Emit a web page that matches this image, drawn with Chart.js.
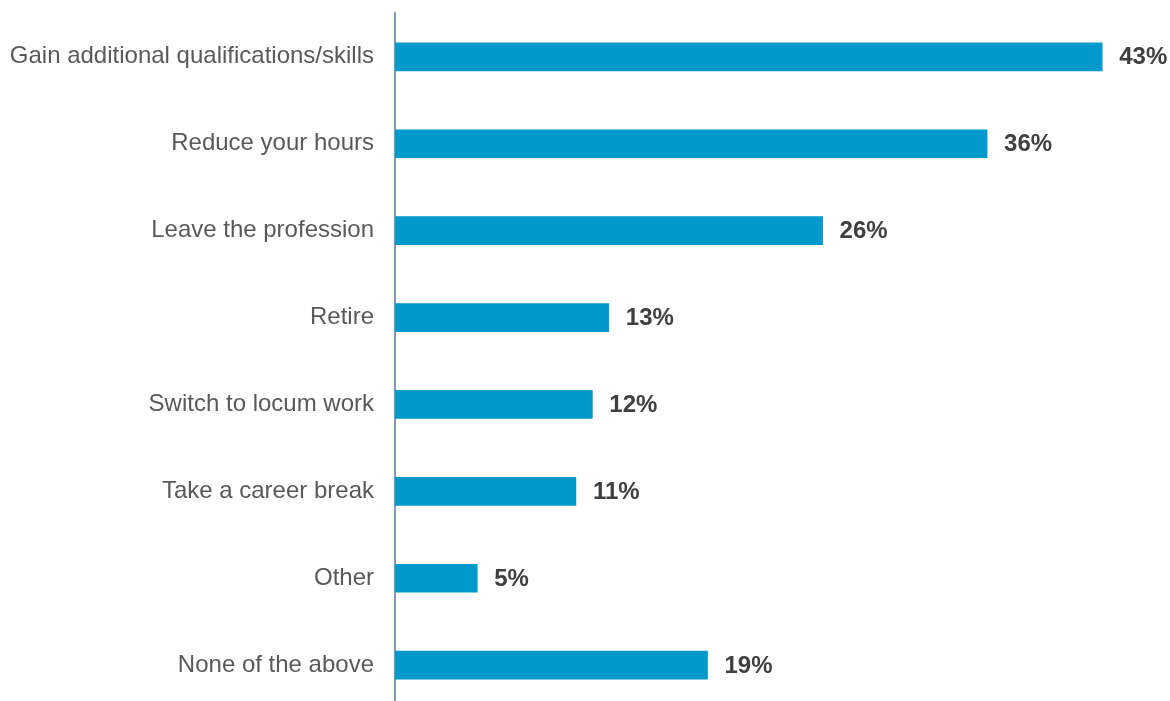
<!DOCTYPE html>
<html>
<head>
<meta charset="utf-8">
<script src="https://cdn.jsdelivr.net/npm/chart.js@4"></script>
<style>
  html, body { margin: 0; padding: 0; background: #fff; overflow: hidden; }
  #wrap { width: 1170px; height: 766px; margin-top: -22px; }
</style>
</head>
<body>
<div id="wrap"><canvas id="chart1"></canvas></div>
<script>
var categories = [
  'Gain additional qualifications/skills',
  'Reduce your hours',
  'Leave the profession',
  'Retire',
  'Switch to locum work',
  'Take a career break',
  'Other',
  'None of the above'
];
var shares = [43, 36, 26, 13, 12, 11, 5, 19];

// percentage text to the right of each bar
var valueLabels = {
  id: 'valueLabels',
  afterDatasetsDraw: function(chart) {
    var ctx = chart.ctx;
    var meta = chart.getDatasetMeta(0);
    ctx.save();
    ctx.font = 'bold 24px "Liberation Sans", Arial, sans-serif';
    ctx.fillStyle = '#404040';
    ctx.textAlign = 'left';
    ctx.textBaseline = 'middle';
    meta.data.forEach(function(bar, i) {
      ctx.fillText(shares[i] + '%', bar.x + 17, bar.y + 1);
    });
    ctx.restore();
  }
};

var ctx = document.getElementById('chart1').getContext('2d');

var myChart = new Chart(ctx, {
  type: 'bar',
  data: {
    labels: categories,
    datasets: [{
      data: shares,
      backgroundColor: '#0099cc',
      borderWidth: 0,
      barThickness: 28
    }]
  },
  options: {
    indexAxis: 'y',
    responsive: true,
    maintainAspectRatio: false,
    animation: false,
    layout: {
      padding: { top: 12, right: 2, bottom: 0, left: 0 }
    },
    plugins: {
      legend: { display: false },
      tooltip: { enabled: false }
    },
    scales: {
      x: {
        display: false,
        min: 0,
        max: 47
      },
      y: {
        afterFit: function(scale) { scale.width = 395; },
        grid: { display: false, drawTicks: false },
        border: { display: true, color: '#8497b0', width: 2 },
        ticks: {
          padding: 21,
          color: '#595959',
          font: { family: '"Liberation Sans", Arial, sans-serif', size: 24 }
        }
      }
    }
  },
  plugins: [valueLabels]
});
</script>
</body>
</html>
